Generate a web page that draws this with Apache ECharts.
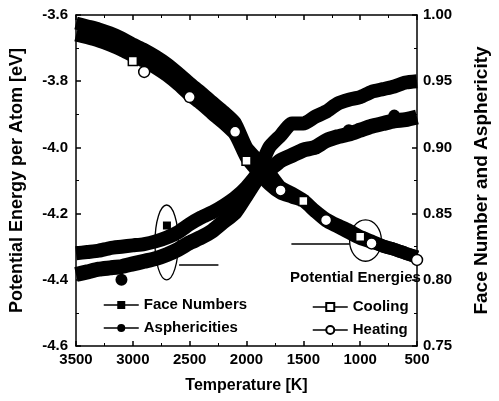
<!DOCTYPE html>
<html>
<head>
<meta charset="utf-8">
<script src="https://cdn.jsdelivr.net/npm/echarts@6/dist/echarts.min.js"></script>
<style>
html,body{margin:0;padding:0;background:#fff;}
#data_show{width:499px;height:401px;}
</style>
</head>
<body>
<div id="data_show"></div>
<script>
// temperature grid, read every 100 K
var temp_k = [3500,3400,3300,3200,3100,3000,2900,2800,2700,2600,2500,2400,2300,2200,2100,2000,
	1900,1800,1700,1600,1500,1400,1300,1200,1100,1000,900,800,700,600,500];

// potential energy per atom [eV]
var cooling_e = [-3.624,-3.633,-3.642,-3.654,-3.669,-3.688,-3.704,-3.724,-3.747,-3.775,-3.805,-3.833,-3.863,-3.892,-3.925,-3.999,
	-4.038,-4.076,-4.120,-4.138,-4.159,-4.190,-4.216,-4.234,-4.250,-4.269,-4.283,-4.298,-4.308,-4.320,-4.331];
var heating_e = [-3.660,-3.669,-3.679,-3.691,-3.706,-3.724,-3.740,-3.760,-3.783,-3.811,-3.842,-3.869,-3.899,-3.928,-3.962,-4.032,
	-4.074,-4.112,-4.138,-4.150,-4.162,-4.193,-4.222,-4.240,-4.258,-4.275,-4.286,-4.298,-4.308,-4.320,-4.331];

// face number / asphericity (right axis)
var face_numbers = [0.820,0.821,0.822,0.824,0.825,0.826,0.827,0.829,0.832,0.836,0.842,0.847,0.851,0.856,0.862,0.870,
	0.881,0.900,0.909,0.918,0.918,0.923,0.927,0.933,0.936,0.938,0.942,0.944,0.946,0.949,0.950];
var asphericities = [0.804,0.806,0.808,0.809,0.810,0.812,0.814,0.816,0.819,0.823,0.828,0.832,0.837,0.844,0.851,0.864,
	0.877,0.883,0.890,0.894,0.898,0.900,0.905,0.908,0.910,0.913,0.916,0.918,0.920,0.921,0.923];

// marker points
var cooling_mark_t = [3000,2000,1500,1000];
var cooling_mark_v = [-3.739,-4.040,-4.162,-4.270];
var heating_mark_t = [2900,2500,2100,1700,1300,900,500];
var heating_mark_v = [-3.772,-3.848,-3.953,-4.130,-4.220,-4.290,-4.340];
var face_mark_t = [2700];
var face_mark_v = [0.841];
var aspher_mark_t = [3100,1100,700];
var aspher_mark_v = [0.800,0.913,0.924];

// axis ticks
var x_ticks = {min: 500, max: 3500, interval: 500};
var y_left_ticks = {min: -4.6, max: -3.6, interval: 0.2};
var y_right_ticks = {min: 0.75, max: 1.00, interval: 0.05};

var font_family = "'Liberation Sans',Arial,sans-serif";

function pairs(t, v){
	var out = [];
	for(var i = 0; i < t.length; i++){
		out.push([t[i], v[i]]);
	}
	return out;
}

var chart = echarts.init(document.getElementById("data_show"));

var tick_label = {fontFamily: font_family, fontWeight: 'bold', fontSize: 15, color: '#000'};
var legend_text = {fontFamily: font_family, fontWeight: 'bold', fontSize: 15, lineHeight: 18, color: '#000'};
var axis_line = {lineStyle: {color: '#000', width: 1.5}};
var tick_in = {inside: true, length: 5, lineStyle: {color: '#000', width: 1.5}};
var minor_in = {show: true, splitNumber: 2, length: 3, lineStyle: {color: '#000', width: 1}};
var arrow_line = {
	silent: true,
	symbol: ['none', 'arrow'],
	symbolSize: [0, 10],
	label: {show: false},
	itemStyle: {color: '#000'},
	lineStyle: {color: '#000', width: 1.5, type: 'solid'}
};

var option = {
	animation: false,
	backgroundColor: '#fff',
	grid: {left: 70, right: 65, top: 15, bottom: 55},
	legend: [{
		data: ['Face Numbers', 'Asphericities'],
		orient: 'vertical',
		left: 98,
		top: 291,
		itemWidth: 35,
		itemHeight: 10,
		itemGap: 5,
		lineStyle: {width: 1.5, color: '#000'},
		textStyle: legend_text
	}, {
		data: ['Cooling', 'Heating'],
		orient: 'vertical',
		left: 307,
		top: 293,
		itemWidth: 35,
		itemHeight: 10,
		itemGap: 5,
		lineStyle: {width: 1.5, color: '#000'},
		textStyle: legend_text
	}],
	xAxis: [{
		type: 'value',
		inverse: true,
		min: x_ticks.min,
		max: x_ticks.max,
		interval: x_ticks.interval,
		position: 'bottom',
		name: 'Temperature [K]',
		nameLocation: 'middle',
		nameGap: 32,
		nameTextStyle: {fontFamily: font_family, fontWeight: 'bold', fontSize: 16, color: '#000'},
		axisLine: axis_line,
		axisTick: tick_in,
		minorTick: minor_in,
		splitLine: {show: false},
		axisLabel: Object.assign({margin: 6, formatter: function(v){ return String(v); }}, tick_label)
	}, {
		type: 'value',
		inverse: true,
		min: x_ticks.min,
		max: x_ticks.max,
		interval: x_ticks.interval,
		position: 'top',
		axisLine: axis_line,
		axisTick: tick_in,
		minorTick: minor_in,
		splitLine: {show: false},
		axisLabel: {show: false}
	}],
	yAxis: [{
		type: 'value',
		position: 'left',
		min: y_left_ticks.min,
		max: y_left_ticks.max,
		interval: y_left_ticks.interval,
		name: 'Potential Energy per Atom [eV]',
		nameLocation: 'middle',
		nameGap: 50,
		nameRotate: 90,
		nameTextStyle: {fontFamily: font_family, fontWeight: 'bold', fontSize: 18, color: '#000'},
		axisLine: axis_line,
		axisTick: tick_in,
		minorTick: minor_in,
		splitLine: {show: false},
		axisLabel: Object.assign({margin: 8, formatter: function(v){ return v.toFixed(1); }}, tick_label)
	}, {
		type: 'value',
		position: 'right',
		min: y_right_ticks.min,
		max: y_right_ticks.max,
		interval: y_right_ticks.interval,
		name: 'Face Number and Asphericity',
		nameLocation: 'middle',
		nameGap: 55,
		nameRotate: 90,
		nameTextStyle: {fontFamily: font_family, fontWeight: 'bold', fontSize: 19, color: '#000'},
		axisLine: axis_line,
		axisTick: tick_in,
		minorTick: minor_in,
		splitLine: {show: false},
		axisLabel: Object.assign({margin: 6, formatter: function(v){ return v.toFixed(2); }}, tick_label)
	}],
	series: [
		{
			name: 'Face Numbers',
			type: 'line',
			yAxisIndex: 1,
			data: pairs(temp_k, face_numbers),
			symbol: 'rect',
			showSymbol: false,
			smooth: 0.2,
			color: '#000',
			lineStyle: {color: '#000', width: 14},
			z: 2,
			markLine: Object.assign({data: [[{coord: [2593, 0.811]}, {coord: [2247, 0.811]}]]}, arrow_line)
		},
		{
			name: 'Asphericities',
			type: 'line',
			yAxisIndex: 1,
			data: pairs(temp_k, asphericities),
			symbol: 'circle',
			showSymbol: false,
			smooth: 0.2,
			color: '#000',
			lineStyle: {color: '#000', width: 15},
			z: 2
		},
		{
			name: 'Cooling',
			type: 'line',
			yAxisIndex: 0,
			data: pairs(temp_k, cooling_e),
			symbol: 'emptyRect',
			showSymbol: false,
			smooth: 0.2,
			color: '#000',
			lineStyle: {color: '#000', width: 13},
			z: 2,
			markLine: Object.assign({data: [[{coord: [1093, -4.292]}, {coord: [1605, -4.292]}]]}, arrow_line)
		},
		{
			name: 'Heating',
			type: 'line',
			yAxisIndex: 0,
			data: pairs(temp_k, heating_e),
			symbol: 'emptyCircle',
			showSymbol: false,
			smooth: 0.2,
			color: '#000',
			lineStyle: {color: '#000', width: 13},
			z: 2
		},
		{
			name: 'Face Numbers',
			type: 'scatter',
			yAxisIndex: 1,
			data: pairs(face_mark_t, face_mark_v),
			symbol: 'rect',
			symbolSize: 8,
			itemStyle: {color: '#000', opacity: 1},
			z: 5
		},
		{
			name: 'Asphericities',
			type: 'scatter',
			yAxisIndex: 1,
			data: pairs(aspher_mark_t, aspher_mark_v),
			symbol: 'circle',
			symbolSize: 12,
			itemStyle: {color: '#000', opacity: 1},
			z: 5
		},
		{
			name: 'Cooling',
			type: 'scatter',
			yAxisIndex: 0,
			data: pairs(cooling_mark_t, cooling_mark_v),
			symbol: 'rect',
			symbolSize: 9,
			itemStyle: {color: '#fff', borderColor: '#000', borderWidth: 1.5, opacity: 1},
			z: 6
		},
		{
			name: 'Heating',
			type: 'scatter',
			yAxisIndex: 0,
			data: pairs(heating_mark_t, heating_mark_v),
			symbol: 'circle',
			symbolSize: 11,
			itemStyle: {color: '#fff', borderColor: '#000', borderWidth: 1.5, opacity: 1},
			z: 6
		}
	]
};
chart.setOption(option);

// circled regions, given in data units
function ellipse_from(x_axis, y_axis, t0, t1, v0, v1){
	var a = chart.convertToPixel({xAxisIndex: x_axis, yAxisIndex: y_axis}, [t0, v0]);
	var b = chart.convertToPixel({xAxisIndex: x_axis, yAxisIndex: y_axis}, [t1, v1]);
	return {
		type: 'ellipse',
		shape: {cx: (a[0] + b[0]) / 2, cy: (a[1] + b[1]) / 2, rx: Math.abs(b[0] - a[0]) / 2, ry: Math.abs(b[1] - a[1]) / 2},
		style: {fill: 'none', stroke: '#000', lineWidth: 1.3},
		z: 10
	};
}

chart.setOption({
	graphic: [
		ellipse_from(0, 1, 2805, 2600, 0.8565, 0.800),
		ellipse_from(0, 0, 1093, 813, -4.219, -4.344),
		{
			type: 'text',
			left: 290,
			top: 270,
			style: {text: 'Potential Energies', font: 'bold 15px ' + font_family, fill: '#000'},
			z: 10
		}
	]
});
</script>
</body>
</html>
